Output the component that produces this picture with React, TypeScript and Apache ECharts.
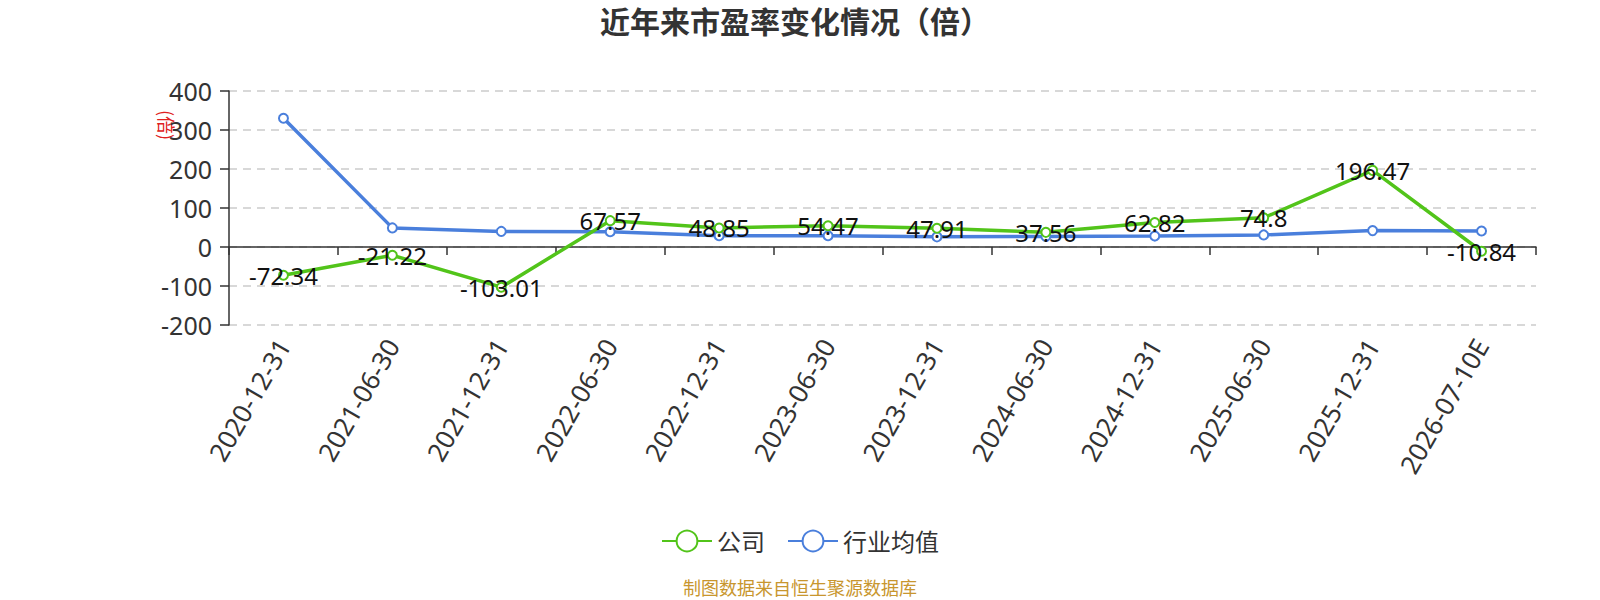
import React, { useEffect, useRef } from "react";
import * as echarts from "echarts";

const categories = [
  "2020-12-31", "2021-06-30", "2021-12-31", "2022-06-30", "2022-12-31", "2023-06-30",
  "2023-12-31", "2024-06-30", "2024-12-31", "2025-06-30", "2025-12-31", "2026-07-10E",
];
const companyValues = [-72.34, -21.22, -103.01, 67.57, 48.85, 54.47, 47.91, 37.56, 62.82, 74.8, 196.47, -10.84];
const industryValues = [330, 49, 40, 39, 29, 29, 26, 27, 28, 31, 42, 41];
const seriesNames = ["公司", "行业均值"];
const yTicks = { min: -200, max: 400, interval: 100 };

const FONT = "'Noto Sans', 'Noto Sans CJK SC', sans-serif";

export default function App() {
  const ref = useRef<HTMLDivElement>(null);
  useEffect(() => {
    document.body.style.margin = "0";
    const chart = echarts.init(ref.current!, null, { renderer: "svg" });
    chart.setOption({
      animation: false,
      textStyle: { fontFamily: FONT },
      title: {
        text: "近年来市盈率变化情况（倍）",
        left: 790,
        textAlign: "center",
        top: 1,
        textStyle: { fontSize: 30, fontWeight: "bold", color: "#333", fontFamily: FONT },
      },
      grid: { left: 229, right: 64, top: 91, bottom: 275, containLabel: false },
      legend: {
        top: 524,
        left: "center",
        itemWidth: 50,
        itemHeight: 26,
        itemGap: 22,
        textStyle: { fontSize: 24, color: "#333", fontFamily: FONT },
        data: seriesNames,
      },
      graphic: [
        {
          type: "text",
          x: 167,
          y: 125,
          rotation: -Math.PI / 2,
          style: {
            text: "(倍)",
            fill: "#e02020",
            fontSize: 18,
            fontFamily: "'Noto Sans CJK SC', sans-serif",
            textAlign: "center",
            textVerticalAlign: "middle",
          },
        },
        {
          type: "text",
          x: 800,
          y: 588,
          style: {
            text: "制图数据来自恒生聚源数据库",
            fill: "#c8962e",
            fontSize: 18,
            fontFamily: FONT,
            textAlign: "center",
            textVerticalAlign: "middle",
          },
        },
      ],
      xAxis: {
        type: "category",
        data: categories,
        boundaryGap: true,
        axisLine: { onZero: true, lineStyle: { color: "#333", width: 1.5 } },
        axisTick: { show: true, length: 8, lineStyle: { color: "#333", width: 1.5 } },
        axisLabel: { rotate: 60, fontSize: 26, color: "#333", margin: 16, interval: 0, fontFamily: FONT },
      },
      yAxis: {
        type: "value",
        min: yTicks.min,
        max: yTicks.max,
        interval: yTicks.interval,
        axisLine: { show: true, lineStyle: { color: "#333", width: 1.5 } },
        axisTick: { show: true, length: 9, lineStyle: { color: "#333", width: 1.5 } },
        axisLabel: { fontSize: 25, color: "#333", margin: 17, fontFamily: FONT },
        splitLine: { lineStyle: { color: "#ccc", type: [8, 6], width: 1.5 } },
      },
      series: [
        {
          name: seriesNames[0],
          type: "line",
          data: companyValues,
          symbol: "emptyCircle",
          symbolSize: 9,
          itemStyle: { color: "#52c41a" },
          lineStyle: { width: 3.5, color: "#52c41a" },
          label: { show: true, position: "inside", fontSize: 24, color: "#111", fontFamily: FONT },
          z: 3,
        },
        {
          name: seriesNames[1],
          type: "line",
          data: industryValues,
          symbol: "emptyCircle",
          symbolSize: 9,
          itemStyle: { color: "#4a7fdc" },
          lineStyle: { width: 3.5, color: "#4a7fdc" },
          z: 2,
        },
      ],
    });
    return () => chart.dispose();
  }, []);
  return <div ref={ref} style={{ width: 1600, height: 600 }} />;
}
